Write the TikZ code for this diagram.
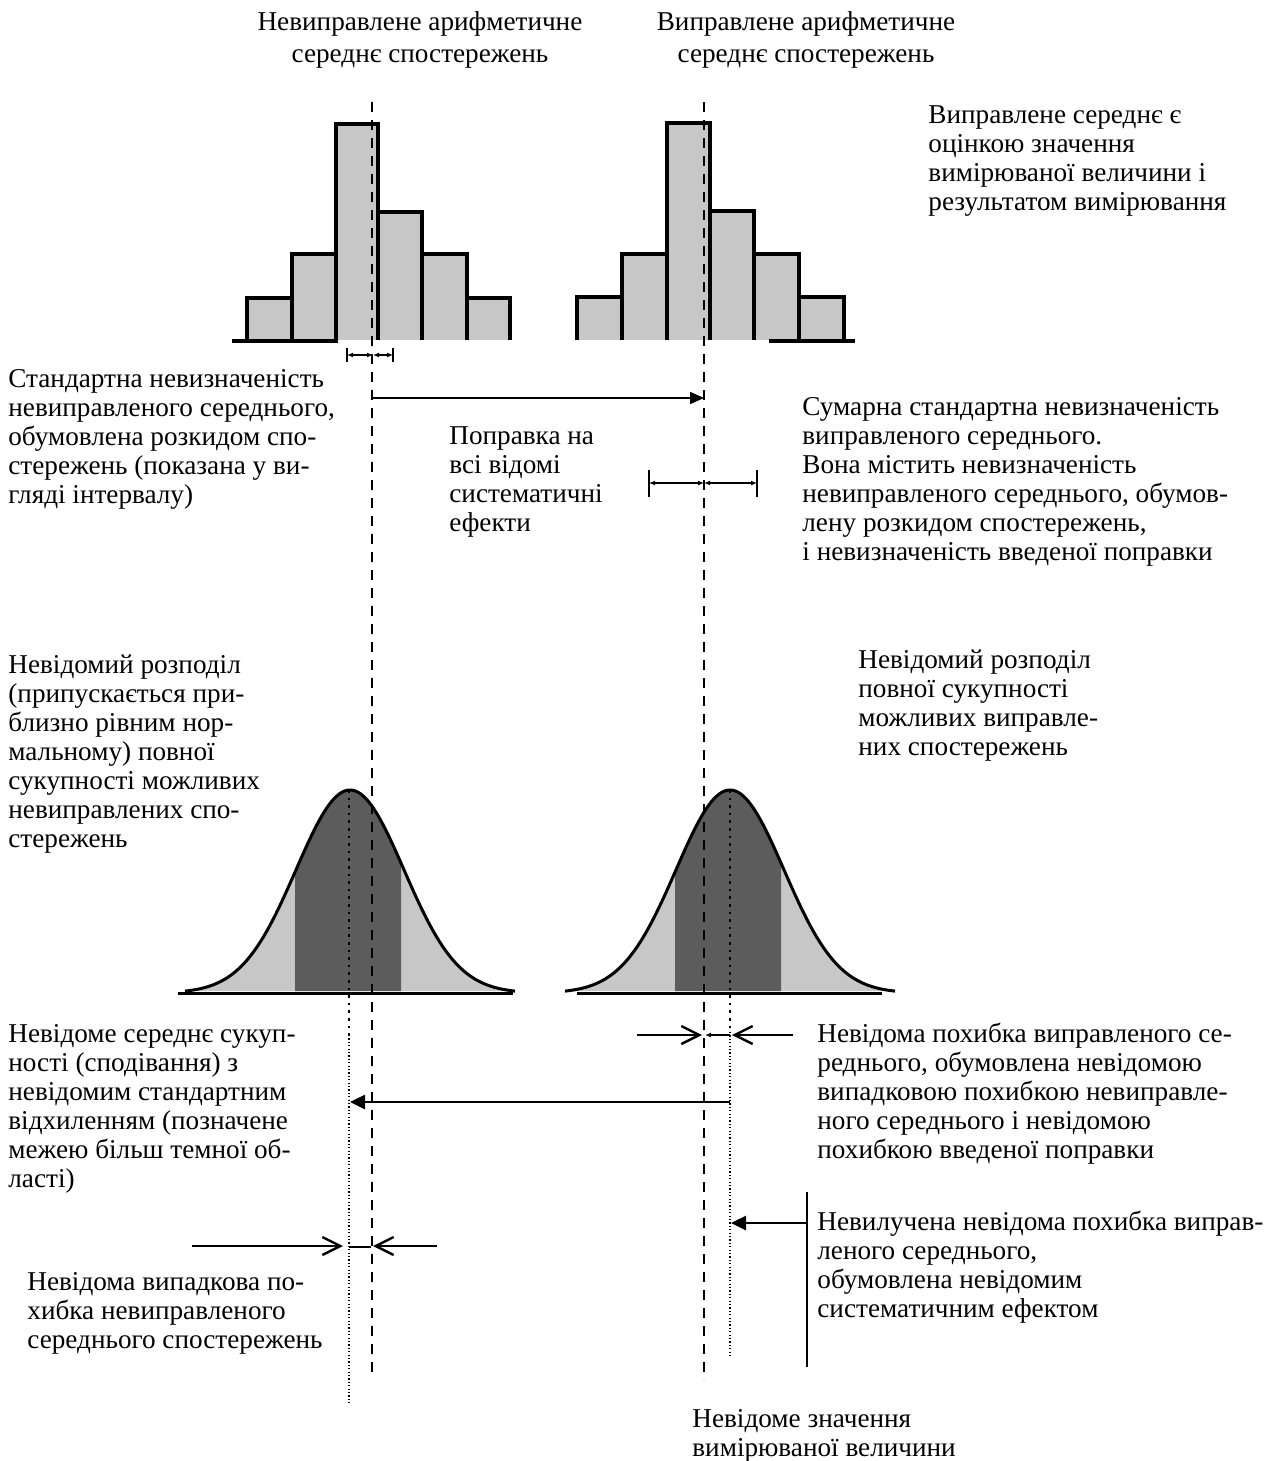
\documentclass[tikz,border=0pt]{standalone}
\usepackage{fontspec}
\setmainfont{Liberation Serif}
\usetikzlibrary{arrows.meta}
\newcommand\bellcurve[1]{plot[domain=-165:165,samples=110,smooth] ({#1+\x},{993-203*exp(-0.5*(\x/54)*(\x/54))})}
\begin{document}
\begin{tikzpicture}[x=0.5pt,y=-0.5pt,
  txt/.style={anchor=base west, align=left, inner sep=0pt, font=\fontsize{13.6}{14.5}\selectfont},
  ttl/.style={anchor=base, align=center, inner sep=0pt, font=\fontsize{13.6}{16.5}\selectfont},
  barfill/.style={fill=black!22},
  barline/.style={line width=1.6pt},
  dashline/.style={line width=1.1pt, dash pattern=on 5pt off 4pt},
  dotline/.style={line width=0.6pt, dash pattern=on 0.6pt off 1.1pt},
  thickdot/.style={line width=1.3pt, dash pattern=on 1.3pt off 2.5pt},
  corr/.style={line width=0.8pt, -{Triangle[length=7pt,width=6pt]}},
  bigarr/.style={line width=1.3pt, -{Triangle[length=7.5pt,width=7pt]}},
  barb/.style={line width=1.2pt, -{Straight Barb[length=9pt,width=9pt,line width=1.2pt]}},
  tiny/.style={line width=0.6pt, {Latex[length=3pt,width=2.5pt]}-{Latex[length=3pt,width=2.5pt]}},
  tinyone/.style={line width=0.6pt, -{Latex[length=3pt,width=2.5pt]}},
  tick/.style={line width=1.2pt}
]
\useasboundingbox (0,0) rectangle (1263,1461);

% ---------- histograms ----------
\foreach \a/\b/\t in {247/292/298, 292/336/254, 336/378/124, 378/422/212, 422/467/254, 467/510/298,
                      577/622/297, 622/667/254, 667/710/123, 710/754/211, 754/799/254, 799/844/297}{
  \fill[barfill] (\a,340) rectangle (\b,\t);
}
\foreach \a/\b/\t in {247/292/298, 292/336/254, 336/378/124, 378/422/212, 422/467/254, 467/510/298,
                      577/622/297, 622/667/254, 667/710/123, 710/754/211, 754/799/254, 799/844/297}{
  \draw[barline] (\a,340) -- (\a,\t) -- (\b,\t) -- (\b,340);
}
\draw[barline] (232,341) -- (338,341);
\draw[barline] (769,341) -- (855,341);

% ---------- bells ----------
\foreach \c in {350,730}{
  \fill[black!22] \bellcurve{\c} -- cycle;
  \begin{scope}
    \clip (\c-55,700) rectangle (\c+51,1000);
    \fill[black!64] \bellcurve{\c} -- cycle;
  \end{scope}
  \draw[line width=1.5pt] \bellcurve{\c};
}
\draw[line width=1.5pt] (178,993) -- (513,993);
\draw[line width=1.5pt] (577,993) -- (882,993);

% ---------- vertical reference lines ----------
\coordinate (Ltop) at (372,102);
\coordinate (Lbot) at (372,1373);
\coordinate (Rtop) at (704,102);
\coordinate (Rbot) at (704,1380);
\draw[dashline] (Ltop) -- (Lbot);
\draw[dashline] (Rtop) -- (Rbot);

\coordinate (lpk) at (349,790);
\coordinate (lmid) at (349,1035);
\coordinate (lend) at (349,1403);
\coordinate (rpk) at (730,790);
\coordinate (rmid) at (730,1032);
\coordinate (rend) at (730,1358);
\draw[thickdot] (lpk) -- (lmid);
\draw[dotline] (lmid) -- (lend);
\draw[thickdot] (rpk) -- (rmid);
\draw[dotline] (rmid) -- (rend);

% ---------- small interval (left) ----------
\coordinate (sL1) at (347,348); \coordinate (sL2) at (347,362);
\coordinate (sR1) at (393,348); \coordinate (sR2) at (393,362);
\coordinate (sl) at (347,355); \coordinate (sc) at (373,355); \coordinate (sr) at (393,355);
\draw[tick] (sL1) -- (sL2);
\draw[tick] (sR1) -- (sR2);
\draw[tiny] (sl) -- (sc);
\draw[tiny] (sc) -- (sr);

% ---------- correction arrow ----------
\coordinate (cA) at (372,398);
\coordinate (cB) at (704,398);
\draw[corr] (cA) -- (cB);

% ---------- big interval (right) ----------
\coordinate (bL1) at (649,470); \coordinate (bL2) at (649,497);
\coordinate (bR1) at (757,470); \coordinate (bR2) at (757,497);
\coordinate (bl) at (649,483); \coordinate (bc) at (704,483); \coordinate (br) at (757,483);
\draw[tick] (bL1) -- (bL2);
\draw[tick] (bR1) -- (bR2);
\draw[tiny] (bl) -- (bc);
\draw[tiny] (bc) -- (br);

% ---------- lower right pair ----------
\coordinate (p1) at (637,1035); \coordinate (p2) at (702,1035);
\coordinate (p3) at (793,1035); \coordinate (p4) at (732,1035);
\coordinate (p5) at (730,1035); \coordinate (p6) at (705,1035);
\draw[barb] (p1) -- (p2);
\draw[barb] (p3) -- (p4);
\draw[tinyone] (p5) -- (p6);

% ---------- long arrow ----------
\coordinate (q1) at (730,1102); \coordinate (q2) at (350,1102);
\draw[bigarr] (q1) -- (q2);

% ---------- lower left pair ----------
\coordinate (m1) at (192,1246); \coordinate (m2) at (343,1246);
\coordinate (m3) at (437,1246); \coordinate (m4) at (373,1246);
\coordinate (m5) at (349,1247); \coordinate (m6) at (371,1247);
\draw[barb] (m1) -- (m2);
\draw[barb] (m3) -- (m4);
\draw[line width=1pt] (m5) -- (m6);

% ---------- systematic effect bar ----------
\coordinate (v1) at (807,1192); \coordinate (v2) at (807,1367);
\coordinate (va) at (807,1223); \coordinate (vb) at (731,1223);
\draw[line width=1.3pt] (v1) -- (v2);
\draw[bigarr] (va) -- (vb);

% ---------- texts (anchored at the baseline of the last line) ----------
\node[ttl] (title1) at (420,63) {Невиправлене арифметичне\\середнє спостережень};
\node[ttl] (title2) at (806,63) {Виправлене арифметичне\\середнє спостережень};
\node[txt] (note) at (928,210) {Виправлене середнє є\\оцінкою значення\\вимірюваної величини і\\результатом вимірювання};
\node[txt] (t1) at (8,503) {Стандартна невизначеність\\невиправленого середнього,\\обумовлена розкидом спо-\\стережень (показана у ви-\\гляді інтервалу)};
\node[txt] (t2) at (449,531) {Поправка на\\всі відомі\\систематичні\\ефекти};
\node[txt] (t3) at (802,560) {Сумарна стандартна невизначеність\\виправленого середнього.\\Вона містить невизначеність\\невиправленого середнього, обумов-\\лену розкидом спостережень,\\і невизначеність введеної поправки};
\node[txt] (t4) at (8,847) {Невідомий розподіл\\(припускається при-\\близно рівним нор-\\мальному) повної\\сукупності можливих\\невиправлених спо-\\стережень};
\node[txt] (t5) at (858,755) {Невідомий розподіл\\повної сукупності\\можливих виправле-\\них спостережень};
\node[txt] (t6) at (8,1187) {Невідоме середнє сукуп-\\ності (сподівання) з\\невідомим стандартним\\відхиленням (позначене\\межею більш темної об-\\ласті)};
\node[txt] (t7) at (27,1348) {Невідома випадкова по-\\хибка невиправленого\\середнього спостережень};
\node[txt] (t8) at (817,1158) {Невідома похибка виправленого се-\\реднього, обумовлена невідомою\\випадковою похибкою невиправле-\\ного середнього і невідомою\\похибкою введеної поправки};
\node[txt] (t9) at (817,1317) {Невилучена невідома похибка виправ-\\леного середнього,\\обумовлена невідомим\\систематичним ефектом};
\node[txt] (t10) at (692,1456) {Невідоме значення\\вимірюваної величини};
\end{tikzpicture}
\end{document}
